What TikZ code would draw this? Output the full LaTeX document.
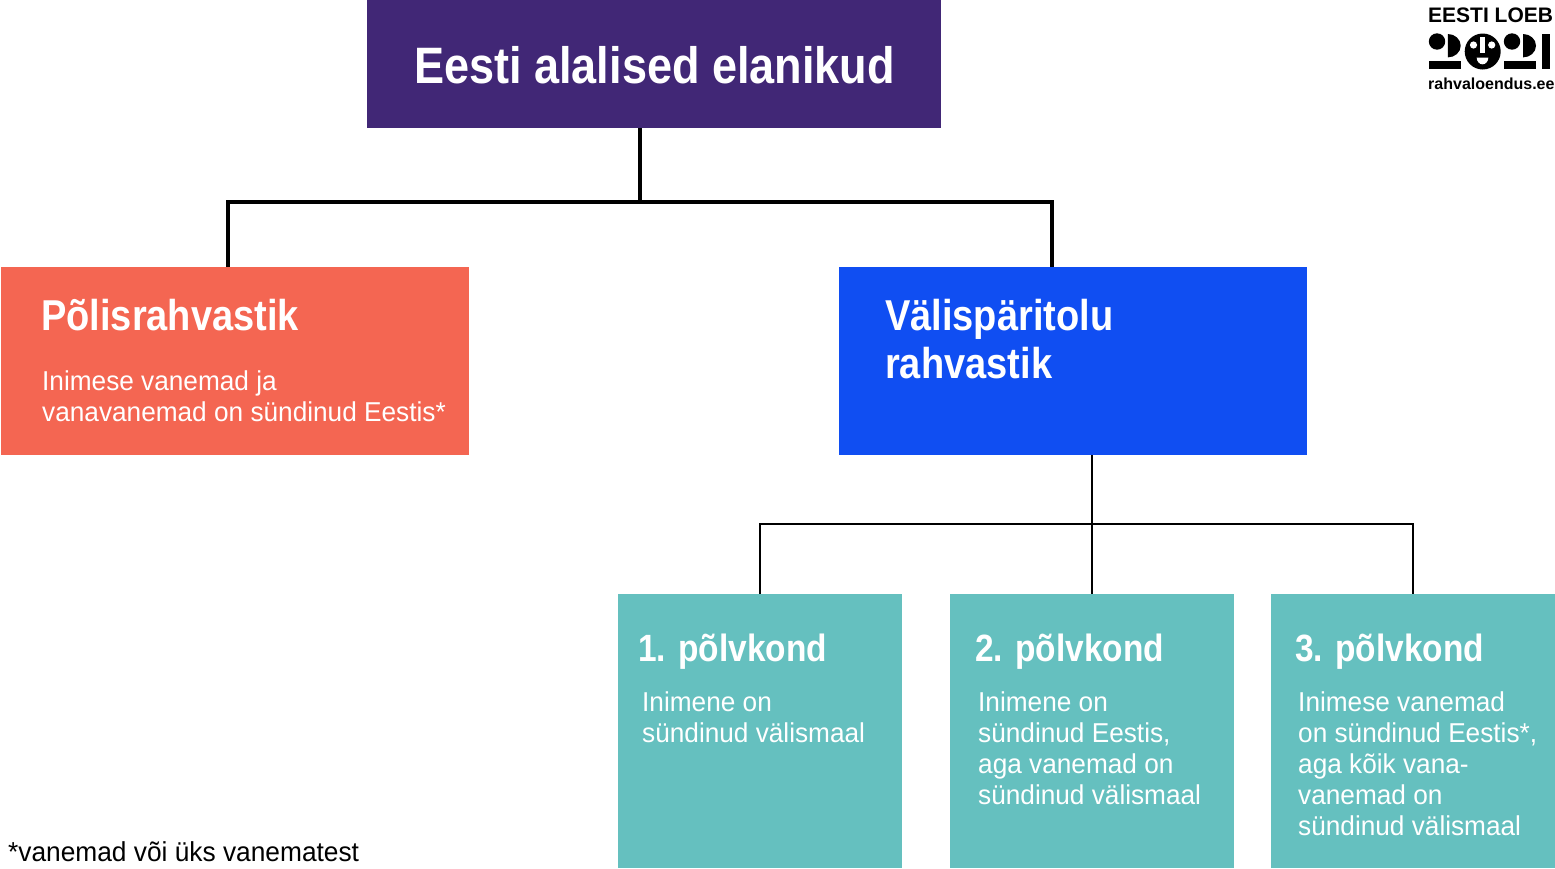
\documentclass[tikz,border=0pt]{standalone}
\usepackage{fontspec}
\setmainfont{Liberation Sans}
\newfontfamily\headfont[FakeStretch=0.88]{Liberation Sans Bold}
\newfontfamily\copyfont[FakeStretch=0.96]{Liberation Sans}
\definecolor{rootc}{HTML}{412776}
\definecolor{leftc}{HTML}{F46652}
\definecolor{rightc}{HTML}{104EF2}
\definecolor{tealc}{HTML}{65C0BF}
\tikzset{
  box/.style={rectangle,inner sep=0pt,outer sep=0pt,draw=none},
  bigtitle/.style={inner sep=0pt,anchor=base west,text=white,font=\headfont\fontsize{51.2}{48}\selectfont},
  midtitle/.style={inner sep=0pt,anchor=base west,text=white,align=left,font=\headfont\fontsize{43.2}{48}\selectfont},
  gentitle/.style={inner sep=0pt,anchor=base west,text=white,font=\headfont\fontsize{38}{40}\selectfont},
  bodytext/.style={inner sep=0pt,anchor=base west,text=white,align=left,font=\copyfont\fontsize{27.3}{31}\selectfont},
  thick link/.style={draw=black,line width=4pt,line cap=butt},
  thin link/.style={draw=black,line width=2pt,line cap=butt},
}
\begin{document}
\begin{tikzpicture}[x=1pt,y=-1pt]
\useasboundingbox (0,0) rectangle (1555,868);
% boxes
\node[box,fill=rootc,minimum width=574pt,minimum height=128pt] (root) at (654,64) {};
\node[box,fill=leftc,minimum width=467.5pt,minimum height=188pt] (native) at (234.75,361) {};
\node[box,fill=rightc,minimum width=468pt,minimum height=188pt] (foreign) at (1073,361) {};
\node[box,fill=tealc,minimum width=283.5pt,minimum height=274pt] (gena) at (759.75,731) {};
\node[box,fill=tealc,minimum width=283.7pt,minimum height=274pt] (genb) at (1092.1,731) {};
\node[box,fill=tealc,minimum width=284pt,minimum height=274pt] (genc) at (1413,731) {};
% upper connectors
\coordinate (busA) at (640,202);
\coordinate (busAl) at (228,202);
\coordinate (busAr) at (1052,202);
\draw[thick link] (root.south -| busA) -- (busA);
\draw[thick link] (native.north -| busAl) -- (busAl) -- (busAr) -- (foreign.north -| busAr);
% lower connectors
\coordinate (busB) at (1092,524);
\draw[thin link] (foreign.south -| genb.north) -- (genb.north);
\draw[thin link] (gena.north) -- (gena.north |- busB) -- (genc.north |- busB) -- (genc.north);
% text
\node[bigtitle] (t0) at (414,83.5) {Eesti alalised elanikud};
\node[midtitle] (t1) at (41,330) {Põlisrahvastik};
\node[bodytext] (b1) at (42,421) {Inimese vanemad ja\\vanavanemad on sündinud Eestis*};
\node[midtitle] (t2) at (885,378) {Välispäritolu\\rahvastik};
\node[gentitle] (t3) at (638,661.5) {1. põlvkond};
\node[bodytext] (b3) at (642,742) {Inimene on\\sündinud välismaal};
\node[gentitle] (t4) at (975,661.5) {2. põlvkond};
\node[bodytext] (b4) at (978,804) {Inimene on\\sündinud Eestis,\\aga vanemad on\\sündinud välismaal};
\node[gentitle] (t5) at (1295,661.5) {3. põlvkond};
\node[bodytext] (b5) at (1298,835) {Inimese vanemad\\on sündinud Eestis*,\\aga kõik vana-\\vanemad on\\sündinud välismaal};
\node[inner sep=0pt,anchor=base west,font=\copyfont\fontsize{27.4}{31}\selectfont] (foot) at (8,861) {*vanemad või üks vanematest};
% logo
\node[inner sep=0pt,anchor=base west,font=\bfseries\fontsize{21}{22}\selectfont] (lg1) at (1428,22) {EESTI LOEB};
\node[inner sep=0pt,anchor=base west,font=\bfseries\fontsize{16}{18}\selectfont] (lg2) at (1428,89) {rahvaloendus.ee};
\fill[black] (1437,41.5) circle[radius=8.2];
\fill[black] (1447.8,34) .. controls (1454.9,34) and (1460.7,39.2) .. (1460.7,45.7) .. controls (1460.7,52.2) and (1454.9,57.4) .. (1447.8,57.4) -- cycle;
\fill[black] (1429,60.5) rectangle (1460.7,69);
\fill[black] (1482.7,51.5) circle[radius=18];
\fill[white] (1473.5,45) circle[radius=3.6] (1491.7,45) circle[radius=3.6];
\fill[white] (1480.4,36.7) rectangle (1484.6,53.3);
\fill[white] (1476.7,57.7) .. controls (1476.7,61.3) and (1479.3,64.3) .. (1482.5,64.3) .. controls (1485.7,64.3) and (1488.3,61.3) .. (1488.3,57.7) -- cycle;
\fill[black] (1512,41.5) circle[radius=8.2];
\fill[black] (1523,34) .. controls (1530.1,34) and (1536,39.2) .. (1536,45.7) .. controls (1536,52.2) and (1530.1,57.4) .. (1523,57.4) -- cycle;
\fill[black] (1504,60.5) rectangle (1536,69);
\fill[black] (1541.7,34) rectangle (1550,69);
\end{tikzpicture}
\end{document}
